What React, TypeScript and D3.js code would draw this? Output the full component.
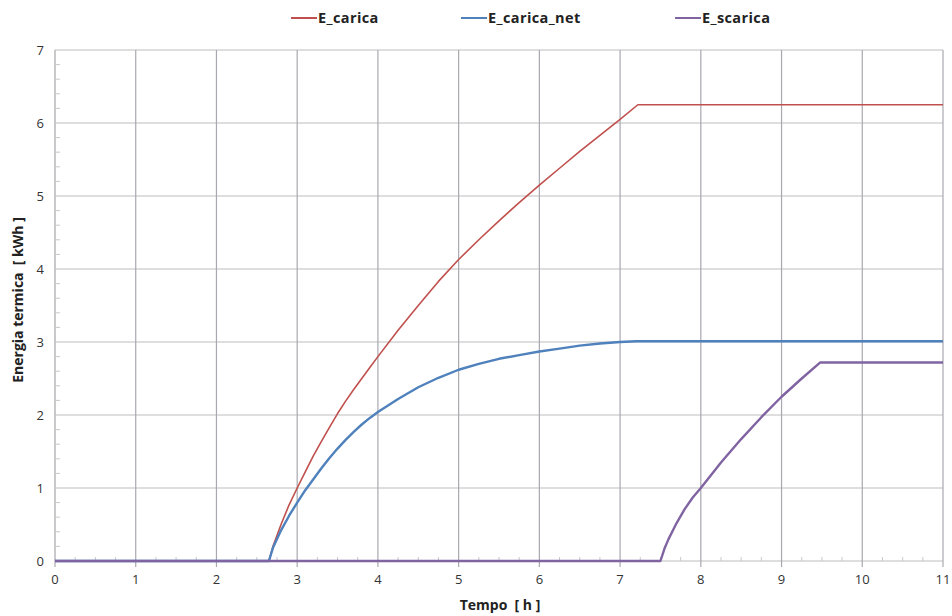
import React from "react";
import * as d3 from "d3";

const xTicks = [0, 1, 2, 3, 4, 5, 6, 7, 8, 9, 10, 11];
const yTicks = [0, 1, 2, 3, 4, 5, 6, 7];

const caricaT = [0, 2.65, 2.7, 2.8, 2.9, 3.0, 3.1, 3.2, 3.3, 3.4, 3.5, 3.6, 3.7, 3.8, 3.9, 4.0, 4.25, 4.5, 4.75, 5.0, 5.25, 5.5, 5.75, 6.0, 6.25, 6.5, 6.75, 7.0, 7.22, 11];
const caricaV = [0, 0, 0.2, 0.5, 0.77, 1.0, 1.22, 1.44, 1.64, 1.83, 2.02, 2.19, 2.35, 2.5, 2.65, 2.8, 3.16, 3.5, 3.83, 4.13, 4.4, 4.66, 4.91, 5.15, 5.38, 5.61, 5.83, 6.05, 6.25, 6.25];

const netT = [0, 2.65, 2.7, 2.8, 2.9, 3.0, 3.1, 3.2, 3.3, 3.4, 3.5, 3.6, 3.7, 3.8, 3.9, 4.0, 4.25, 4.5, 4.75, 5.0, 5.25, 5.5, 5.75, 6.0, 6.25, 6.5, 6.75, 7.0, 7.2, 11];
const netV = [0, 0, 0.18, 0.42, 0.62, 0.8, 0.97, 1.12, 1.27, 1.41, 1.54, 1.66, 1.77, 1.87, 1.96, 2.04, 2.22, 2.38, 2.51, 2.62, 2.7, 2.77, 2.82, 2.87, 2.91, 2.95, 2.98, 3.0, 3.01, 3.01];

const scaricaT = [0, 7.5, 7.55, 7.6, 7.7, 7.8, 7.9, 8.0, 8.25, 8.5, 8.75, 9.0, 9.25, 9.48, 11];
const scaricaV = [0, 0, 0.17, 0.3, 0.52, 0.71, 0.87, 1.0, 1.35, 1.67, 1.97, 2.25, 2.5, 2.72, 2.72];

const seriesNames = ["E_carica", "E_carica_net", "E_scarica"];
const seriesColors = ["#C0504D", "#4F81BD", "#8064A2"];

export default function App() {
  const W = 952, H = 616;
  const x = d3.scaleLinear().domain([0, 11]).range([55, 943]);
  const y = d3.scaleLinear().domain([0, 7]).range([561, 50]);
  const line = d3.line<[number, number]>().x(d => x(d[0])).y(d => y(d[1]));
  const zip = (t: number[], v: number[]) => t.map((tt, i) => [tt, v[i]] as [number, number]);
  const series = [zip(caricaT, caricaV), zip(netT, netV), zip(scaricaT, scaricaV)];
  const widths = [1.6, 2.4, 2.4];
  const xMinor = d3.range(0, 11.001, 0.25).filter(v => Math.abs(v - Math.round(v)) > 1e-6);
  const yMinor = d3.range(0, 7.001, 0.2).filter(v => Math.abs(v - Math.round(v)) > 1e-6);
  const legendX = [291, 461, 675];
  const font = "'Open Sans', 'DejaVu Sans', sans-serif";
  return (
    <svg width={W} height={H} style={{ position: "absolute", left: 0, top: 0, background: "#fff" }} fontFamily={font}>
      <rect x={0} y={0} width={W} height={H} fill="#fff" />
      {yTicks.map(t => (
        <line key={"gy" + t} x1={x(0)} x2={x(11)} y1={y(t)} y2={y(t)} stroke="#BDBDBD" strokeWidth={1.2} />
      ))}
      {xTicks.map(t => (
        <line key={"gx" + t} x1={x(t)} x2={x(t)} y1={y(0)} y2={y(7)} stroke="#A8A8B0" strokeWidth={1.2} />
      ))}
      <line x1={x(0)} x2={x(0)} y1={y(0)} y2={y(7)} stroke="#C8C8C8" strokeWidth={1.2} />
      {yMinor.map(t => (
        <line key={"ym" + t} x1={x(0)} x2={x(0) + 5} y1={y(t)} y2={y(t)} stroke="#C8C8C8" strokeWidth={1} />
      ))}
      {xMinor.map(t => (
        <line key={"xm" + t} x1={x(t)} x2={x(t)} y1={y(0)} y2={y(0) - 4} stroke="#C8C8D0" strokeWidth={1} />
      ))}
      {xTicks.map(t => (
        <line key={"xt" + t} x1={x(t)} x2={x(t)} y1={y(0)} y2={y(0) + 6} stroke="#A8A8B0" strokeWidth={1.2} />
      ))}
      {series.map((s, i) => (
        <path key={"s" + i} d={line(s) || ""} fill="none" stroke={seriesColors[i]} strokeWidth={widths[i]} strokeLinejoin="round" />
      ))}
      {xTicks.map(t => (
        <text key={"xl" + t} x={x(t)} y={y(0) + 23} textAnchor="middle" fontSize={13} fill="#333">{t}</text>
      ))}
      {yTicks.map(t => (
        <text key={"yl" + t} x={x(0) - 11} y={y(t) + 5} textAnchor="end" fontSize={13} fill="#333">{t}</text>
      ))}
      <text x={500} y={610} textAnchor="middle" fontSize={14} fontWeight={700} fill="#222" style={{ whiteSpace: "pre" }}>{"Tempo  [ h ]"}</text>
      <text transform={`translate(23,${300}) rotate(-90)`} textAnchor="middle" fontSize={14} fontWeight={700} fill="#222" style={{ whiteSpace: "pre" }}>{"Energia termica  [ kWh ]"}</text>
      {seriesNames.map((n, i) => (
        <g key={"lg" + i}>
          <line x1={legendX[i]} x2={legendX[i] + 26} y1={18} y2={18} stroke={seriesColors[i]} strokeWidth={2} />
          <text x={legendX[i] + 27} y={23} fontSize={14.5} fontWeight={700} fill="#222" letterSpacing={0.4}>{n}</text>
        </g>
      ))}
    </svg>
  );
}
